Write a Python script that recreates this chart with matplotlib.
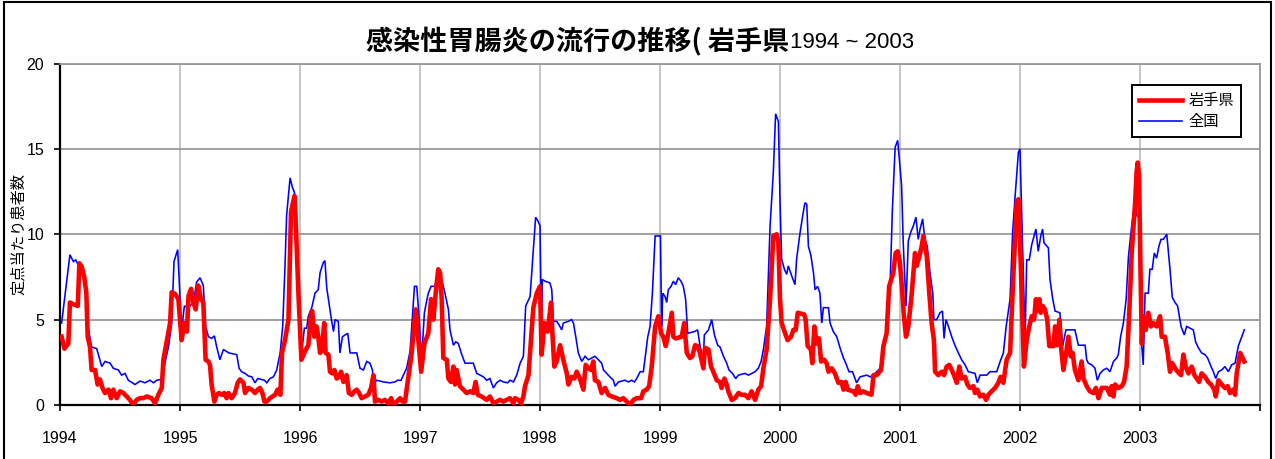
import matplotlib
matplotlib.use("Agg")
import matplotlib.pyplot as plt
from matplotlib.patches import Rectangle
from matplotlib.lines import Line2D

# ---------------- data (weeks counted from the start of 1994, 52 per year) ----------------
years = [1994, 1995, 1996, 1997, 1998, 1999, 2000, 2001, 2002, 2003]

national_week = [
    0.7, 4.3, 5.8, 6.8, 7.9, 9.4, 10.8, 11.6, 13.7, 15.9, 18.1, 19.5, 21.7, 23.1, 25.3, 26.7, 28.2, 29.6, 32.5, 34.7,
    36.8, 39.0, 40.5, 41.9, 43.8, 44.8, 47.0, 48.4, 49.4, 51.0,
    52.7, 53.9, 55.6, 57.8, 59.2, 60.7, 62.1, 63.1, 64.3, 65.7, 66.9, 67.9, 69.3, 70.8, 73.2, 76.6, 77.6, 78.7, 80.2,
    81.6, 83.1, 84.5, 85.7, 88.6, 89.6, 91.0, 92.5, 93.9, 95.4, 96.5, 97.5, 98.2, 99.7, 100.7, 101.6, 102.6,
    104.7, 105.9, 106.9, 107.6, 109.1, 110.5, 111.9, 112.7, 114.1, 114.8, 115.6, 116.3, 117.4, 118.5, 119.2, 120.6,
    121.3, 122.4, 124.7, 125.7, 128.6, 130.0, 131.5, 132.9, 134.3, 135.4, 135.8, 137.2, 140.1, 143.0, 145.2, 146.3,
    147.8, 148.8, 150.2, 151.7, 153.6, 154.6, 155.6,
    156.7, 157.9, 158.9, 159.6, 160.8, 162.2, 163.2, 164.2, 165.4, 166.8, 168.3, 169.0, 170.5, 171.5, 172.6, 174.1,
    175.5, 177.7, 179.1, 180.6, 183.5, 184.9, 186.3, 187.8, 189.2, 190.7, 192.1, 194.0, 195.0, 196.5, 197.9, 199.4,
    200.8, 201.8, 203.7, 205.1, 206.1, 207.0, 208.0,
    208.7, 209.0, 210.2, 212.3, 213.1, 213.8, 215.2, 216.2, 217.4, 218.1, 220.3, 221.7, 222.5, 223.5, 224.6, 226.1,
    227.5, 229.0, 231.8, 233.3, 234.7, 235.5, 236.9, 238.3, 239.8, 240.5, 242.0, 244.8, 246.3, 247.7, 248.9, 249.9,
    251.4, 252.8, 253.8, 254.7, 255.7, 256.7, 257.9, 259.3, 260.2,
    260.7, 261.2, 262.2, 262.9, 263.6, 264.8, 265.8, 266.8, 267.9, 269.1, 270.1, 271.1, 272.0, 274.9, 276.3, 277.3,
    278.8, 279.2, 281.0, 282.4, 283.6, 285.0, 286.0, 287.5, 288.9, 289.9, 291.4, 292.8, 294.0, 296.8, 298.3, 299.7,
    301.2, 302.6, 303.8, 304.8, 306.2, 307.7, 309.1, 310.1, 311.3,
    312.0, 312.7, 313.9, 314.9, 315.6, 317.1, 318.5, 319.2, 320.7, 322.1, 322.8, 323.6, 324.3, 325.4, 326.5, 327.2,
    328.3, 329.3, 330.1, 330.8, 333.0, 333.7, 335.1, 336.6, 338.0, 339.5, 340.5, 341.9, 343.4, 344.5, 345.2, 346.7,
    349.6, 351.0, 352.5, 353.9, 355.4, 356.8, 358.7, 359.7, 360.7, 361.9, 363.0,
    364.7, 365.4, 366.6, 367.6, 368.6, 369.8, 370.9, 371.9, 372.7, 373.8, 374.8, 375.8, 377.0, 378.2, 378.7, 379.9,
    381.3, 382.4, 383.1, 383.9, 385.0, 386.4, 387.8, 389.3, 390.7, 392.2, 393.6, 396.5, 397.5, 398.7, 401.6, 403.0,
    405.9, 407.4, 408.8, 410.0, 411.7, 412.8, 413.9, 415.3, 416.0,
    418.2, 418.9, 420.0, 421.1, 422.1, 422.9, 423.9, 425.0, 425.8, 426.4, 428.3, 429.0, 430.2, 431.2, 433.3, 434.5,
    435.9, 439.8, 441.3, 444.2, 444.9, 445.6, 447.1, 448.5, 449.5, 450.7, 452.1, 453.6, 455.0, 456.5, 457.9, 458.6,
    459.6, 460.8, 462.0, 463.0, 464.4, 465.9, 466.6, 468.0,
    468.7, 469.4, 470.2, 471.6, 472.3, 473.3, 474.2, 475.2, 476.2, 477.1, 478.1, 479.6, 481.0, 482.0, 483.2, 484.3,
    485.8, 487.2, 488.2, 489.7, 491.1, 492.1, 493.3, 494.7, 496.2, 497.3, 498.8, 499.8, 500.8, 502.0, 503.4, 504.8,
    506.3, 507.7, 509.2, 510.6, 512.1, 513.2,
]
national_rate = [
    4.8, 8.8, 8.4, 8.5, 8.2, 8.0, 7.4, 5.0, 3.4, 3.3, 2.25, 2.55, 2.45, 2.15, 2.05, 1.75, 1.85, 1.45, 1.2, 1.4,
    1.3, 1.45, 1.3, 1.45, 1.5, 2.05, 3.4, 4.8, 8.4, 9.1,
    4.4, 5.8, 5.7, 6.0, 7.2, 7.45, 7.0, 4.6, 4.0, 3.9, 4.05, 3.4, 2.65, 3.25, 3.05, 2.95, 2.15, 1.95, 1.85,
    1.7, 1.65, 1.3, 1.55, 1.45, 1.3, 1.55, 1.65, 2.05, 3.05, 4.6, 8.15, 11.1, 13.3, 12.75, 12.45, 8.15,
    3.05, 4.5, 4.5, 5.2, 5.7, 6.55, 6.75, 7.75, 8.35, 8.45, 6.85, 6.2, 5.2, 4.3, 5.0, 4.9,
    3.05, 4.0, 4.2, 3.05, 3.05, 2.15, 2.05, 2.55, 2.45, 2.05, 1.2, 1.45, 1.35, 1.3, 1.35, 1.45,
    1.45, 1.75, 2.15, 3.15, 6.95, 6.95, 5.1,
    2.65, 5.4, 6.1, 6.55, 6.95, 6.95, 7.25, 7.55, 7.35, 6.55, 5.6, 4.4, 3.5, 3.7, 3.6, 2.95,
    2.45, 2.45, 2.45, 1.85, 1.65, 1.45, 1.55, 1.0, 1.3, 1.45, 1.35, 1.3, 1.45, 1.35, 1.75, 2.45,
    2.85, 5.8, 6.35, 9.1, 11.0, 10.8, 10.5,
    4.0, 7.35, 7.25, 7.15, 6.75, 4.9, 4.9, 4.7, 4.4, 4.8, 4.9, 5.0, 4.8, 4.0, 3.05, 2.55,
    2.85, 2.65, 2.85, 2.65, 2.45, 2.05, 1.85, 1.65, 1.45, 1.1, 1.35, 1.45, 1.35, 1.45, 1.35, 1.55,
    1.95, 1.95, 3.05, 4.0, 4.6, 6.55, 9.9, 9.9, 9.9,
    4.6, 6.55, 6.35, 6.0, 6.75, 6.95, 7.25, 7.05, 7.45, 7.25, 6.95, 6.2, 4.2, 4.3, 4.4, 3.5,
    2.65, 4.1, 4.4, 5.0, 4.1, 3.5, 3.4, 2.85, 2.45, 2.05, 1.85, 1.55, 1.75, 1.85, 1.75, 1.85,
    1.95, 2.15, 2.55, 3.25, 4.6, 10.5, 13.6, 17.05, 16.6,
    12.05, 8.55, 7.95, 7.65, 8.15, 7.55, 7.05, 8.55, 10.1, 11.3, 11.85, 11.75, 9.3, 8.75, 7.75, 6.75,
    6.95, 6.55, 4.8, 5.7, 5.7, 4.8, 4.3, 4.0, 3.35, 2.75, 2.45, 1.95, 1.95, 1.55, 1.3, 1.65,
    1.75, 1.65, 1.75, 1.95, 2.15, 3.05, 5.2, 6.95, 11.45, 15.1, 15.5,
    12.85, 9.5, 5.8, 9.6, 10.1, 10.5, 11.0, 9.7, 10.3, 10.9, 9.7, 9.3, 7.75, 6.55, 5.0, 5.0,
    5.4, 5.5, 3.9, 5.0, 4.6, 4.0, 3.5, 3.05, 2.65, 2.35, 1.95, 1.85, 1.3, 1.75, 1.75, 1.95,
    1.95, 2.55, 3.05, 4.6, 6.2, 10.1, 12.25, 14.8, 15.0,
    3.8, 8.5, 8.5, 9.4, 9.9, 10.3, 9.0, 9.9, 10.3, 9.5, 9.2, 7.35, 6.2, 5.5, 5.4, 3.45,
    4.4, 4.4, 3.5, 3.5, 2.65, 2.45, 2.35, 2.15, 1.45, 1.85, 2.05, 2.15, 1.95, 2.55, 2.75, 2.95,
    4.0, 4.8, 6.2, 8.7, 10.5, 12.15, 11.1, 10.9,
    3.6, 2.35, 6.55, 6.55, 7.95, 7.95, 8.9, 8.6, 9.3, 9.7, 9.7, 10.0, 7.95, 6.3, 6.0, 5.8,
    4.6, 4.1, 4.6, 4.5, 4.4, 3.7, 3.35, 3.05, 2.95, 2.75, 2.25, 1.95, 1.55, 1.95, 2.05, 2.25,
    1.95, 2.35, 2.45, 3.45, 4.0, 4.4,
]

iwate_week = [
    0.7, 1.9, 3.6, 4.3, 5.8, 7.7, 8.4, 9.4, 10.5, 11.4, 12.0, 13.0, 13.7, 15.2, 16.3, 17.3, 18.4, 19.5, 21.0, 22.1,
    23.1, 24.6, 26.0, 27.5, 28.9, 30.3, 31.8, 33.2, 34.7, 36.1, 37.6, 39.7, 41.2, 42.6, 44.1, 44.8, 46.2, 47.7,
    48.4, 49.9, 51.3,
    52.7, 53.9, 55.0, 55.7, 56.8, 57.8, 58.8, 59.9, 61.1, 62.1, 63.1, 64.3, 65.0, 65.7, 66.9, 67.9, 68.9, 70.1,
    71.2, 72.2, 73.0, 74.4, 75.8, 77.0, 78.0, 79.5, 80.2, 81.6, 83.1, 84.5, 85.7, 86.7, 87.7, 88.6, 89.6, 91.0,
    93.2, 94.3, 95.5, 96.2, 97.5, 99.0, 100.1, 101.6, 102.1, 103.3,
    104.6, 106.2, 107.6, 108.8, 109.3, 110.2, 111.2, 111.9, 112.7, 113.4, 114.5, 115.1, 116.3, 117.0, 118.0,
    118.9, 119.9, 120.9, 121.8, 122.8, 124.2, 125.2, 126.4, 127.6, 128.6, 129.6, 130.7, 132.2, 133.6, 134.8,
    135.8, 136.5, 138.0, 139.4, 140.8, 142.3, 143.5, 144.5, 145.9, 147.4, 148.4, 149.5, 151.0, 152.4, 154.1, 155.3,
    156.5, 157.9, 159.6, 160.8, 161.8, 162.8, 163.9, 164.7, 165.4, 166.1, 167.6, 168.3, 169.4, 170.5, 171.2,
    171.9, 173.3, 174.8, 176.2, 177.7, 179.1, 180.1, 181.0, 182.7, 184.9, 186.3, 187.8, 189.2, 190.7, 192.1,
    193.6, 195.0, 196.5, 197.2, 198.6, 199.8, 200.8, 201.5, 203.0, 203.7, 205.1, 206.6, 208.0,
    208.7, 209.9, 211.3, 212.8, 213.3, 214.2, 215.2, 216.7, 218.1, 219.6, 220.3, 221.7, 222.9, 223.9, 225.3,
    226.8, 227.8, 229.0, 230.1, 231.1, 231.8, 233.3, 234.7, 236.2, 237.6, 239.1, 241.2, 242.7, 244.1, 245.6,
    247.0, 248.5, 249.9, 251.8, 252.8, 254.2, 255.3, 256.4, 257.9, 259.3, 260.5,
    261.4, 262.5, 263.6, 265.1, 265.8, 266.8, 269.4, 270.5, 271.6, 273.0, 274.0, 275.2, 276.3, 277.3, 278.8,
    279.5, 281.0, 282.1, 283.1, 284.6, 286.0, 286.7, 287.9, 288.9, 289.6, 291.1, 292.5, 294.0, 295.4, 296.8,
    298.3, 299.7, 301.2, 302.6, 303.8, 304.8, 306.2, 307.7, 309.1, 310.6, 311.3, 312.0,
    312.7, 314.2, 315.3, 316.8, 317.8, 318.8, 319.7, 322.5, 323.1, 324.0, 325.4, 326.0, 326.9, 327.9, 328.9,
    329.8, 331.2, 332.2, 333.0, 334.4, 335.8, 337.3, 338.7, 339.5, 340.5, 341.3, 343.8, 344.8, 345.7, 346.7,
    348.1, 349.6, 351.7, 352.5, 353.9, 355.8, 356.8, 358.2, 359.3, 361.1, 362.1, 363.0, 363.9,
    364.7, 365.7, 366.6, 367.6, 369.1, 370.5, 371.2, 372.4, 373.4, 374.1, 375.6, 376.7, 377.7, 378.7, 379.2,
    380.6, 382.1, 383.1, 384.2, 385.4, 386.4, 387.4, 388.6, 389.7, 390.7, 392.2, 393.2, 394.3, 395.8, 396.5,
    397.5, 398.7, 400.1, 401.3, 402.3, 403.7, 405.2, 406.6, 407.6, 408.8, 410.2, 411.7, 413.1, 414.6, 415.3,
    415.8, 416.7, 417.7, 418.9, 420.0, 421.1, 422.1, 422.9, 423.5, 424.4, 425.0, 425.8, 426.8, 427.8, 428.7,
    430.5, 431.2, 431.9, 433.1, 433.6, 434.8, 435.9, 437.0, 438.0, 438.8, 439.8, 441.3, 442.7, 443.5, 444.9,
    446.3, 447.8, 448.9, 450.0, 451.4, 453.6, 455.0, 455.7, 456.5, 457.2, 458.6, 460.1, 461.1, 462.2, 463.4,
    464.4, 465.9, 466.5, 467.0, 467.6, 468.2, 468.8,
    469.4, 470.5, 471.6, 472.8, 473.8, 475.2, 476.7, 477.4, 478.8, 480.0, 481.0, 482.0, 483.2, 484.3, 485.8,
    486.8, 487.8, 489.0, 490.4, 491.6, 492.6, 493.6, 494.7, 496.2, 497.6, 498.8, 500.2, 500.8, 502.0, 503.4,
    504.8, 506.0, 507.0, 508.5, 509.2, 509.9, 511.4, 512.1, 513.2,
]
iwate_rate = [
    4.0, 3.3, 3.6, 6.0, 5.9, 5.8, 8.3, 8.1, 7.5, 6.6, 4.0, 3.4, 2.05, 2.05, 1.2, 1.5, 1.0, 0.7, 0.9, 0.4,
    0.9, 0.4, 0.8, 0.7, 0.5, 0.3, 0.0, 0.3, 0.4, 0.4, 0.5, 0.4, 0.1, 0.6, 1.0, 2.65, 3.7, 4.8,
    6.6, 6.5, 6.2,
    3.8, 4.8, 4.3, 6.4, 6.8, 6.0, 5.6, 7.0, 6.2, 6.0, 2.65, 2.55, 2.35, 1.2, 0.2, 0.6, 0.7, 0.6,
    0.7, 0.4, 0.7, 0.4, 0.7, 1.3, 1.5, 1.3, 0.7, 1.0, 0.9, 0.7, 0.9, 1.0, 0.7, 0.2, 0.2, 0.4,
    0.6, 0.9, 0.6, 3.05, 3.8, 5.0, 11.3, 12.25, 10.9, 6.6,
    2.65, 3.15, 3.5, 5.4, 5.5, 4.0, 4.6, 4.0, 3.05, 3.15, 4.8, 3.05, 2.95, 1.95, 1.85,
    2.05, 1.55, 1.65, 1.95, 1.35, 1.75, 0.7, 0.6, 0.8, 0.9, 0.7, 0.4, 0.5, 0.6, 1.0,
    1.75, 0.2, 0.3, 0.2, 0.3, 0.1, 0.4, 0.0, 0.2, 0.4, 0.2, 0.2, 1.65, 3.05, 5.6, 3.8,
    1.95, 3.6, 4.2, 6.2, 5.0, 6.55, 7.95, 7.75, 6.2, 2.75, 2.65, 1.55, 1.35, 2.25, 1.2,
    2.05, 1.1, 0.9, 0.7, 0.8, 0.7, 1.35, 0.6, 0.5, 0.3, 0.5, 0.1, 0.2, 0.3, 0.2,
    0.3, 0.4, 0.1, 0.4, 0.3, 0.1, 0.5, 1.1, 1.75, 3.05, 5.7, 6.55, 6.95,
    2.95, 4.8, 4.3, 6.0, 4.4, 2.25, 2.55, 3.5, 2.65, 1.85, 1.2, 1.65, 1.55, 1.95, 1.55,
    0.9, 2.35, 2.15, 2.05, 2.55, 1.45, 1.35, 0.7, 1.0, 0.6, 0.5, 0.4, 0.3, 0.4, 0.2,
    0.0, 0.3, 0.4, 0.4, 0.8, 0.9, 1.1, 2.25, 4.6, 5.2, 4.2,
    4.0, 3.45, 4.2, 5.4, 4.0, 3.9, 4.0, 4.8, 3.05, 2.75, 2.85, 3.5, 3.45, 3.05, 2.15,
    3.35, 3.25, 2.25, 1.95, 1.45, 1.35, 1.0, 1.55, 1.2, 0.8, 0.3, 0.4, 0.7, 0.6, 0.6,
    0.4, 0.8, 0.3, 0.9, 1.1, 2.15, 3.25, 6.2, 9.9, 10.0, 9.5, 6.2,
    4.8, 4.2, 3.8, 4.0, 4.4, 4.4, 5.4, 5.3, 5.0, 3.45, 3.25, 2.45, 4.6, 3.6, 3.9,
    2.55, 2.65, 2.45, 1.95, 2.15, 1.85, 1.3, 1.35, 0.9, 1.35, 0.9, 0.8, 0.6, 1.1, 0.7,
    0.8, 0.7, 0.6, 1.75, 1.75, 2.05, 3.45, 4.2, 6.95, 7.75, 8.9, 9.0, 8.4,
    7.15, 5.2, 4.0, 4.6, 6.55, 8.9, 8.15, 8.7, 9.3, 9.9, 8.7, 6.55, 4.8, 3.8, 1.95,
    1.75, 1.95, 1.75, 2.25, 2.35, 2.05, 1.75, 1.3, 2.25, 1.55, 1.65, 1.2, 1.0, 1.1, 0.7,
    0.9, 0.5, 0.6, 0.3, 0.6, 0.8, 1.0, 1.3, 1.65, 1.3, 2.65, 3.05, 7.55, 11.85, 12.05,
    10.5, 6.55, 2.25, 3.8, 4.6, 5.2, 5.0, 6.2, 5.5, 6.2, 5.4, 5.8, 5.6, 5.0, 3.45,
    3.45, 4.6, 3.5, 5.0, 3.6, 2.05, 2.95, 4.0, 2.85, 3.05, 2.05, 1.45, 2.55, 1.55, 1.1,
    0.8, 0.7, 1.0, 0.4, 1.0, 1.0, 0.6, 1.1, 0.5, 1.2, 1.0, 1.1, 1.35, 2.25, 5.6,
    8.9, 11.85, 13.6, 14.2, 13.4, 8.0, 3.6,
    5.2, 4.4, 5.4, 4.6, 4.8, 4.6, 5.2, 4.0, 4.0, 3.05, 1.95, 2.45, 2.15, 1.95, 1.75,
    2.95, 2.25, 1.85, 2.25, 1.75, 1.55, 1.35, 1.85, 1.65, 1.35, 1.2, 0.9, 0.5, 1.45, 1.2,
    1.0, 1.1, 0.7, 0.9, 0.6, 1.85, 3.05, 2.85, 2.55,
]

series_labels = ["岩手県", "全国"]
y_label = "定点当たり患者数"
title_main = "感染性胃腸炎の流行の推移( 岩手県"
title_years = "1994 ~ 2003"

# ---------------- figure ----------------
W, H = 1275, 459
fig = plt.figure(figsize=(W / 100, H / 100), dpi=100)
fig.patch.set_facecolor("white")

def fx(px):
    return px / W

def fy(py):
    return 1 - py / H

ax = fig.add_axes([fx(60), fy(405), fx(1200), (405 - 63.5) / H])

t_nat = [years[0] + w / 52 for w in national_week]
t_iwa = [years[0] + w / 52 for w in iwate_week]

ax.plot(t_nat, national_rate, color="#0000ff", lw=1.15, zorder=3, solid_joinstyle="miter")
ax.plot(t_iwa, iwate_rate, color="#ff0000", lw=3.3, zorder=4, solid_joinstyle="round")

ax.set_xlim(years[0], years[-1] + 1)
ax.set_ylim(0, 20)
ax.set_xticks(years + [years[-1] + 1])
ax.set_xticklabels([str(y) for y in years] + [""])
ax.set_yticks([0, 5, 10, 15, 20])

ax.grid(axis="y", color="#999999", lw=1.3, zorder=1)
ax.grid(axis="x", color="#c0c0c0", lw=1.3, zorder=1)
ax.set_axisbelow(True)

for s in ["top", "right"]:
    ax.spines[s].set_color("#999999")
    ax.spines[s].set_linewidth(1.3)
for s in ["left", "bottom"]:
    ax.spines[s].set_color("black")
    ax.spines[s].set_linewidth(1.6)

ax.tick_params(axis="both", direction="out", length=4, width=1.2, color="black", labelsize=11.5)
for lab in ax.get_xticklabels() + ax.get_yticklabels():
    lab.set_fontfamily(["Liberation Sans", "DejaVu Sans"])
ax.tick_params(axis="x", pad=14.5)
ax.tick_params(axis="y", pad=7.5)

ax.set_ylabel(y_label, fontsize=11, family=["Noto Sans CJK JP", "DejaVu Sans"])
ax.yaxis.set_label_coords((27 - 60) / 1200, 0.5)

# title
fig.text(fx(789), fy(42), title_main, ha="right", va="center", fontsize=19.5, fontweight="bold",
         family=["Noto Sans CJK JP", "DejaVu Sans"])
fig.text(fx(790), fy(43), title_years, ha="left", va="center", fontsize=16,
         family=["Liberation Sans", "DejaVu Sans"])

# legend
handles = [Line2D([], [], color="#ff0000", lw=3.3), Line2D([], [], color="#0000ff", lw=1.15)]
leg = ax.legend(handles, series_labels, loc="upper left",
                bbox_to_anchor=((1132 - 60) / 1200, (405 - 85) / (405 - 63.5)),
                frameon=True, fancybox=False, edgecolor="black", framealpha=1,
                prop={"family": ["Noto Sans CJK JP", "DejaVu Sans"], "size": 11},
                handlelength=2.8, handletextpad=0.45, borderpad=0.45, labelspacing=0.3,
                borderaxespad=0)
leg.get_frame().set_linewidth(1.4)

# outer chart border
fig.patches.append(Rectangle((fx(4), fy(462)), fx(1267), (462 - 2) / H, transform=fig.transFigure,
                             fill=False, edgecolor="black", lw=1.5, zorder=10))

fig.savefig("out.png", dpi=100, facecolor="white")
